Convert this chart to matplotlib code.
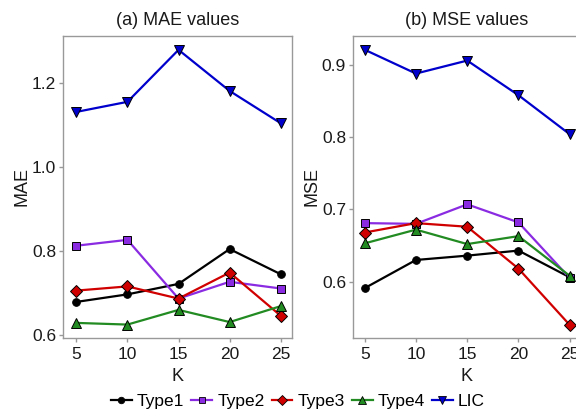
import matplotlib
matplotlib.use("Agg")
import matplotlib.pyplot as plt
from matplotlib.lines import Line2D

plt.rcParams['font.family'] = ['Liberation Sans', 'DejaVu Sans']

K = [5, 10, 15, 20, 25]
series_names = ["Type1", "Type2", "Type3", "Type4", "LIC"]

mae_type1 = [0.679, 0.697, 0.722, 0.805, 0.745]
mae_type2 = [0.813, 0.827, 0.687, 0.727, 0.711]
mae_type3 = [0.706, 0.716, 0.687, 0.749, 0.646]
mae_type4 = [0.629, 0.625, 0.660, 0.631, 0.669]
mae_lic = [1.132, 1.156, 1.280, 1.182, 1.105]

mse_type1 = [0.591, 0.630, 0.636, 0.643, 0.606]
mse_type2 = [0.681, 0.680, 0.707, 0.682, 0.605]
mse_type3 = [0.668, 0.681, 0.676, 0.618, 0.540]
mse_type4 = [0.653, 0.672, 0.652, 0.663, 0.608]
mse_lic = [0.921, 0.888, 0.906, 0.858, 0.804]

colors = ["#000000", "#8A2BE2", "#D00000", "#228B22", "#0000CD"]
markers = ["o", "s", "D", "^", "v"]
msizes = [5.5, 5.5, 6, 7.5, 7.5]

fig = plt.figure(figsize=(5.76, 4.12), dpi=100)
W, H = 576, 412


def add_px_axes(x0, y0, x1, y1):
    return fig.add_axes([x0 / W, 1 - y1 / H, (x1 - x0) / W, (y1 - y0) / H])


def style(ax, title, ylabel, yticks, ylim, xlim):
    for s in ax.spines.values():
        s.set_color("#999999")
        s.set_linewidth(1.0)
    ax.set_xlim(*xlim)
    ax.set_ylim(*ylim)
    ax.set_xticks(K)
    ax.set_yticks(yticks)
    ax.set_yticklabels([f"{v:.1f}" for v in yticks])
    ax.tick_params(colors="#999999", labelcolor="#1a1a1a", labelsize=12.5,
                   length=3, width=1.0)
    ax.tick_params(axis="x", pad=3.5)
    ax.tick_params(axis="y", pad=2)
    ax.set_title(title, fontsize=13, pad=8, color="#1a1a1a")
    ax.set_ylabel(ylabel, fontsize=13, labelpad=1, color="#1a1a1a")
    ax.set_xlabel("K", fontsize=13, labelpad=4, color="#1a1a1a")


def draw(ax, data):
    for vals, c, m, ms in zip(data, colors, markers, msizes):
        ax.plot(K, vals, color=c, lw=1.6, marker=m, markersize=ms,
                markerfacecolor=c, markeredgecolor="black",
                markeredgewidth=0.7, clip_on=False, zorder=3)


ax1 = add_px_axes(63, 36, 292, 338)
draw(ax1, [mae_type1, mae_type2, mae_type3, mae_type4, mae_lic])
style(ax1, "(a) MAE values", "MAE", [0.6, 0.8, 1.0, 1.2], (0.593, 1.313),
      (3.7, 26.1))

ax2 = add_px_axes(353, 36, 580, 338)
draw(ax2, [mse_type1, mse_type2, mse_type3, mse_type4, mse_lic])
style(ax2, "(b) MSE values", "MSE", [0.6, 0.7, 0.8, 0.9], (0.522, 0.940),
      (3.86, 26.0))

handles = [Line2D([], [], color=c, lw=1.6, marker=m, markersize=ms * 0.85,
                  markerfacecolor=c, markeredgecolor="black",
                  markeredgewidth=0.6)
           for c, m, ms in zip(colors, markers, msizes)]
fig.legend(handles, series_names, loc="center", bbox_to_anchor=(298 / W, 1 - 401 / H),
           ncol=5, frameon=False, fontsize=12.5, handlelength=1.2,
           handletextpad=0.3, columnspacing=0.4, borderpad=0)

fig.savefig("out.png", dpi=100)
